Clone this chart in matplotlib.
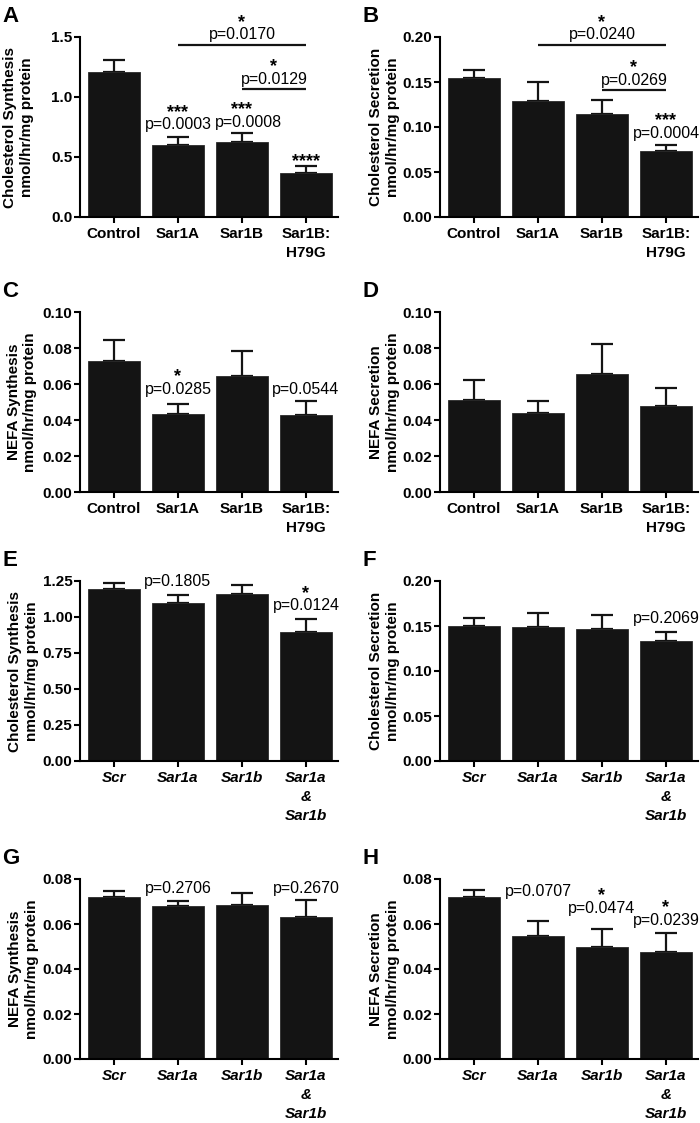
"""
Sar1 knockdown / overexpression panels: cholesterol and NEFA synthesis
and secretion (8 bar panels, mean + upper SEM, p-value annotations).
"""

import matplotlib
matplotlib.use("Agg")
import matplotlib.pyplot as plt
from matplotlib.ticker import FormatStrFormatter

plt.rcParams['font.family'] = ['Liberation Sans', 'DejaVu Sans']

FIG_W, FIG_H = 700, 1123  # pixels at dpi 100

# ---- categories -----------------------------------------------------------
OE_LABELS = ["Control", "Sar1A", "Sar1B", "Sar1B:\nH79G"]
KD_LABELS = ["Scr", "Sar1a", "Sar1b", "Sar1a\n&\nSar1b"]

# ---- values (mean, SEM) ----------------------------------------------------
a_mean = [1.21, 0.60, 0.625, 0.37]
a_sem = [0.10, 0.07, 0.075, 0.057]
b_mean = [0.154, 0.1285, 0.115, 0.073]
b_sem = [0.009, 0.021, 0.015, 0.0066]
c_mean = [0.0726, 0.0432, 0.0642, 0.0426]
c_sem = [0.0119, 0.0056, 0.0144, 0.0077]
d_mean = [0.051, 0.0439, 0.0654, 0.0477]
d_sem = [0.0114, 0.0066, 0.0168, 0.0103]
e_mean = [1.197, 1.099, 1.162, 0.894]
e_sem = [0.039, 0.051, 0.062, 0.089]
f_mean = [0.150, 0.149, 0.1465, 0.1335]
f_sem = [0.009, 0.016, 0.016, 0.0093]
g_mean = [0.072, 0.0681, 0.0684, 0.063]
g_sem = [0.0025, 0.0022, 0.0053, 0.0075]
h_mean = [0.072, 0.0547, 0.0496, 0.0475]
h_sem = [0.0029, 0.0068, 0.0082, 0.0084]

# ---- y ticks ----------------------------------------------------------------
a_ticks = [0.0, 0.5, 1.0, 1.5]
b_ticks = [0.00, 0.05, 0.10, 0.15, 0.20]
c_ticks = [0.00, 0.02, 0.04, 0.06, 0.08, 0.10]
e_ticks = [0.00, 0.25, 0.50, 0.75, 1.00, 1.25]
g_ticks = [0.00, 0.02, 0.04, 0.06, 0.08]

# ---- annotations: (bar, p baseline, p text, stars) ---------------------------
a_ann = [(1, 0.730, "p=0.0003", "***"), (2, 0.753, "p=0.0008", "***"),
         (3, 0.424, "", "****")]
b_ann = [(3, 0.0878, "p=0.0004", "***")]
c_ann = [(1, 0.0547, "p=0.0285", "*"), (3, 0.0547, "p=0.0544", "")]
e_ann = [(1, 1.213, "p=0.1805", ""), (3, 1.046, "p=0.0124", "*")]
f_ann = [(3, 0.153, "p=0.2069", "")]
g_ann = [(1, 0.074, "p=0.2706", ""), (3, 0.074, "p=0.2670", "")]
h_ann = [(1, 0.0723, "p=0.0707", ""), (2, 0.0651, "p=0.0474", "*"),
         (3, 0.0596, "p=0.0239", "*")]

# brackets: (from bar, to bar, line y, p text, stars)
a_brk = [(1, 3, 1.436, "p=0.0170", "*"), (2, 3, 1.065, "p=0.0129", "*")]
b_brk = [(1, 3, 0.1915, "p=0.0240", "*"), (2, 3, 0.1407, "p=0.0269", "*")]

# small sideways shifts (points) where the original p-values were set off-centre
P_NUDGE = {"p=0.0008": 5}


def put_label(ax, x, y, ptext, stars, p_off=0):
    if ptext:
        ax.annotate(ptext, (x, y), xytext=(P_NUDGE.get(ptext, 0), p_off),
                    textcoords="offset points", ha="center", va="baseline",
                    fontsize=11.5, annotation_clip=False)
        s_off = p_off + 9
    else:
        s_off = p_off
    if stars:
        ax.annotate(stars, (x, y), xytext=(0, s_off), textcoords="offset points",
                    ha="center", va="baseline", fontsize=13, fontweight="bold",
                    annotation_clip=False)


def draw_panel(rect, letter, means, sems, labels, italic, ticks, fmt,
               ylabel, ann=(), brackets=(), label_x=-0.16):
    x0, y_top, w, h = rect
    ax = fig.add_axes([x0 / FIG_W, 1 - (y_top + h) / FIG_H, w / FIG_W, h / FIG_H])
    xs = list(range(len(means)))
    ax.bar(xs, means, width=0.8, color="#141414", edgecolor="#2a2a2a",
           linewidth=0.6, zorder=2)
    ax.errorbar(xs, means, yerr=[[0] * len(sems), sems], fmt="none",
                ecolor="#141414", elinewidth=1.6, capsize=8, capthick=1.6,
                zorder=1)
    ax.set_xlim(-0.53, 3.5)
    ax.set_ylim(ticks[0], ticks[-1])
    ax.set_yticks(ticks)
    ax.yaxis.set_major_formatter(FormatStrFormatter(fmt))
    ax.set_xticks(xs)
    ax.set_xticklabels(labels, fontweight="bold", fontsize=11,
                       fontstyle="italic" if italic else "normal",
                       linespacing=1.45)
    for t in ax.get_yticklabels():
        t.set_fontweight("bold")
        t.set_fontsize(11)
    for side in ("top", "right"):
        ax.spines[side].set_visible(False)
    for side in ("left", "bottom"):
        ax.spines[side].set_linewidth(1.5)
    ax.tick_params(axis="y", direction="out", length=4, width=1.5, pad=1.5)
    ax.tick_params(axis="x", direction="out", length=4, width=1.5, pad=3)
    ax.set_ylabel(ylabel, fontweight="bold", fontsize=11, linespacing=1.25)
    ax.yaxis.set_label_coords(label_x, 0.5)
    ax.patch.set_alpha(0)

    for i, y, ptext, stars in ann:
        put_label(ax, xs[i], y, ptext, stars)
    for i, j, y, ptext, stars in brackets:
        ax.plot([xs[i], xs[j]], [y, y], color="#141414", lw=1.6,
                clip_on=False, solid_capstyle="butt")
        put_label(ax, (xs[i] + xs[j]) / 2, y, ptext, stars, p_off=4)

    fig.text((x0 - 78) / FIG_W, 1 - (y_top - 31) / FIG_H, letter,
             fontsize=16, fontweight="bold", va="top", ha="left")
    return ax


fig = plt.figure(figsize=(FIG_W / 100, FIG_H / 100), dpi=100)

CS = "Cholesterol Synthesis\nnmol/hr/mg protein"
CE = "Cholesterol Secretion\nnmol/hr/mg protein"
NS = "NEFA Synthesis\nnmol/hr/mg protein"
NE = "NEFA Secretion\nnmol/hr/mg protein"

LX, RX, AW, AH = 80, 440, 258, 180

draw_panel((LX, 37, AW, AH), "A", a_mean, a_sem, OE_LABELS, False, a_ticks,
           "%.1f", CS, a_ann, a_brk, label_x=-0.18)
draw_panel((RX, 37, AW, AH), "B", b_mean, b_sem, OE_LABELS, False, b_ticks,
           "%.2f", CE, b_ann, b_brk, label_x=-0.155)
draw_panel((LX, 312, AW, AH), "C", c_mean, c_sem, OE_LABELS, False, c_ticks,
           "%.2f", NS, c_ann, label_x=-0.165)
draw_panel((RX, 312, AW, AH), "D", d_mean, d_sem, OE_LABELS, False, c_ticks,
           "%.2f", NE, label_x=-0.155)
draw_panel((LX, 581, AW, AH), "E", e_mean, e_sem, KD_LABELS, True,
           e_ticks, "%.2f", CS, e_ann)
draw_panel((RX, 581, AW, AH), "F", f_mean, f_sem, KD_LABELS, True, b_ticks,
           "%.2f", CE, f_ann, label_x=-0.155)
draw_panel((LX, 879, AW, AH), "G", g_mean, g_sem, KD_LABELS, True,
           g_ticks, "%.2f", NS, g_ann)
draw_panel((RX, 879, AW, AH), "H", h_mean, h_sem, KD_LABELS, True, g_ticks,
           "%.2f", NE, h_ann, label_x=-0.155)

fig.savefig("out.png", dpi=100)
